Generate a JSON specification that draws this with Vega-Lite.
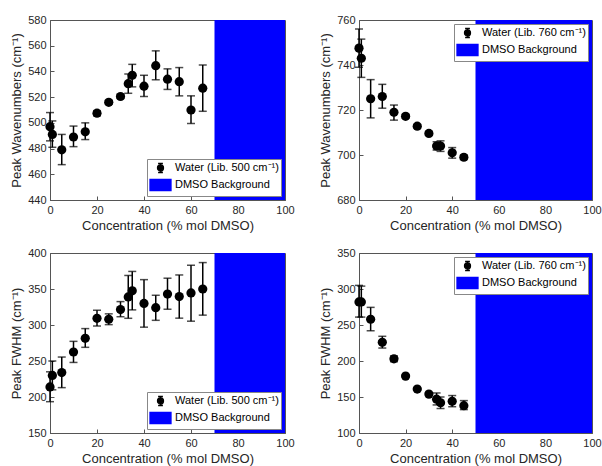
{
  "$schema": "https://vega.github.io/schema/vega-lite/v6.json",
  "background": "white",
  "padding": {"left": 10, "top": 13, "right": 5, "bottom": 5},
  "config": {
    "font": "Liberation Sans",
    "view": {"stroke": "#555", "strokeWidth": 1},
    "axis": {
      "grid": false, "labelFontSize": 11, "titleFontSize": 13, "titleFontWeight": "normal",
      "labelColor": "#262626", "titleColor": "#262626", "domainColor": "#555", "tickColor": "#555",
      "tickSize": -4, "labelPadding": 8, "titlePadding": 4, "labelOverlap": false, "labelFlush": false, "labelBound": false
    },
    "legend": {
      "title": null, "fillColor": "white", "strokeColor": "#888", "padding": 2,
      "labelFontSize": 11, "labelColor": "#000", "symbolSize": 144, "rowPadding": 0,
      "labelOffset": 12, "symbolOpacity": 1, "offset": 4
    }
  },
  "datasets": {
    "tl": [
      {"c": 0, "v": 497, "lo": 486, "hi": 508},
      {"c": 1, "v": 491, "lo": 481, "hi": 501.5},
      {"c": 5, "v": 479, "lo": 467.5, "hi": 491},
      {"c": 10, "v": 489, "lo": 481.5, "hi": 497.5},
      {"c": 15, "v": 493, "lo": 487, "hi": 500},
      {"c": 20, "v": 507.5, "lo": 505.5, "hi": 509.5},
      {"c": 25, "v": 516, "lo": 514.5, "hi": 517.5},
      {"c": 30, "v": 520.5, "lo": 519, "hi": 522},
      {"c": 33.3, "v": 530.5, "lo": 523, "hi": 538},
      {"c": 35, "v": 537, "lo": 528, "hi": 545.5},
      {"c": 40, "v": 528.5, "lo": 520.5, "hi": 537},
      {"c": 45, "v": 544.5, "lo": 533.5, "hi": 556},
      {"c": 50, "v": 534, "lo": 526, "hi": 542},
      {"c": 55, "v": 532, "lo": 521, "hi": 543},
      {"c": 60, "v": 510, "lo": 499.5, "hi": 521},
      {"c": 65, "v": 527, "lo": 509, "hi": 545}
    ],
    "tr": [
      {"c": 0, "v": 747.5, "lo": 739, "hi": 756},
      {"c": 1, "v": 743, "lo": 734.5, "hi": 751.5},
      {"c": 5, "v": 725, "lo": 716.5, "hi": 733.5},
      {"c": 10, "v": 726, "lo": 720.8, "hi": 731.4},
      {"c": 15, "v": 719, "lo": 715.5, "hi": 722.2},
      {"c": 20, "v": 717.2, "lo": 716.3, "hi": 718.1},
      {"c": 25, "v": 712.8, "lo": 712, "hi": 713.6},
      {"c": 30, "v": 709.6, "lo": 708.8, "hi": 710.4},
      {"c": 33.3, "v": 704, "lo": 702.2, "hi": 705.9},
      {"c": 35, "v": 704, "lo": 701.6, "hi": 706.3},
      {"c": 40, "v": 701, "lo": 698.6, "hi": 703.3},
      {"c": 45, "v": 699, "lo": 698, "hi": 700}
    ],
    "bl": [
      {"c": 0, "v": 214, "lo": 193.5, "hi": 235},
      {"c": 1, "v": 230, "lo": 210, "hi": 250},
      {"c": 5, "v": 234, "lo": 213, "hi": 255.5},
      {"c": 10, "v": 262.5, "lo": 248, "hi": 277.3},
      {"c": 15, "v": 281.5, "lo": 269, "hi": 295},
      {"c": 20, "v": 309.3, "lo": 298.6, "hi": 320.5},
      {"c": 25, "v": 308, "lo": 300.5, "hi": 315.5},
      {"c": 30, "v": 321.5, "lo": 311.5, "hi": 332.5},
      {"c": 33.3, "v": 339, "lo": 309.3, "hi": 368.8},
      {"c": 35, "v": 347.5, "lo": 321, "hi": 374.4},
      {"c": 40, "v": 330, "lo": 297, "hi": 363},
      {"c": 45, "v": 324, "lo": 306.5, "hi": 341.3},
      {"c": 50, "v": 343, "lo": 321.9, "hi": 365},
      {"c": 55, "v": 339.5, "lo": 309.5, "hi": 369.5},
      {"c": 60, "v": 344.5, "lo": 305.3, "hi": 383},
      {"c": 65, "v": 350, "lo": 313.7, "hi": 386.7}
    ],
    "br": [
      {"c": 0, "v": 282, "lo": 261, "hi": 305},
      {"c": 1, "v": 282, "lo": 261, "hi": 304},
      {"c": 5, "v": 258, "lo": 242, "hi": 274.5},
      {"c": 10, "v": 226, "lo": 218, "hi": 234.3},
      {"c": 15, "v": 203, "lo": 199, "hi": 207},
      {"c": 20, "v": 179, "lo": 178, "hi": 180},
      {"c": 25, "v": 161, "lo": 160, "hi": 162},
      {"c": 30, "v": 154, "lo": 153, "hi": 155},
      {"c": 33.3, "v": 147, "lo": 139, "hi": 155.6},
      {"c": 35, "v": 142, "lo": 134, "hi": 150},
      {"c": 40, "v": 144, "lo": 136.5, "hi": 152},
      {"c": 45, "v": 138, "lo": 132.5, "hi": 145}
    ],
    "bgL": [{"c": 70, "c2": 100}],
    "bgR": [{"c": 50, "c2": 100}]
  },
  "columns": 2,
  "spacing": {"row": 53, "column": 74},
  "bounds": "flush",
  "resolve": {"scale": {"color": "independent"}, "legend": {"color": "independent"}},
  "concat": [
    {
      "width": 235, "height": 180,
      "encoding": {"x": {"field": "c", "type": "quantitative", "scale": {"domain": [0, 100], "nice": false}, "axis": {"title": "Concentration (% mol DMSO)", "values": [0, 20, 40, 60, 80, 100]}}},
      "layer": [
        {"data": {"name": "bgL"}, "mark": {"type": "rect"}, "encoding": {"x2": {"field": "c2"},
          "color": {"datum": "DMSO Background", "scale": {"domain": ["Water (Lib. 500 cm⁻¹)", "DMSO Background"], "range": ["#000000", "#0000ff"]},
            "legend": {"orient": "bottom-right", "encode": {"symbols": {"update": {
              "shape": {"signal": "datum.value === 'DMSO Background' ? 'M-1,-0.92H2.5V0.92H-1Z' : 'M0.35,-0.75H1.15M0.75,-0.75V0.75M0.35,0.75H1.15M1.25,0A0.5,0.5 0 1 1 0.25,0A0.5,0.5 0 1 1 1.25,0Z'"},
              "stroke": {"signal": "datum.value === 'DMSO Background' ? '#0000ff' : '#000000'"},
              "fill": {"signal": "datum.value === 'DMSO Background' ? '#0000ff' : '#000000'"},
              "strokeWidth": {"value": 1.3}}}}}}}},
        {"data": {"name": "tl"}, "mark": {"type": "errorbar", "color": "black", "ticks": {"size": 8, "thickness": 1.5}, "rule": {"strokeWidth": 1.5}},
          "encoding": {"y": {"field": "lo", "type": "quantitative", "scale": {"domain": [440, 580], "nice": false}, "title": "Peak Wavenumbers (cm⁻¹)", "axis": {"values": [440, 460, 480, 500, 520, 540, 560, 580]}}, "y2": {"field": "hi"}}},
        {"data": {"name": "tl"}, "mark": {"type": "point", "filled": true, "size": 85, "opacity": 1, "shape": "circle"},
          "encoding": {"y": {"field": "v", "type": "quantitative", "title": "Peak Wavenumbers (cm⁻¹)", "axis": {"values": [440, 460, 480, 500, 520, 540, 560, 580]}}, "color": {"datum": "Water (Lib. 500 cm⁻¹)"}}}
      ]
    },
    {
      "width": 233, "height": 180,
      "encoding": {"x": {"field": "c", "type": "quantitative", "scale": {"domain": [0, 100], "nice": false}, "axis": {"title": "Concentration (% mol DMSO)", "values": [0, 20, 40, 60, 80, 100]}}},
      "layer": [
        {"data": {"name": "bgR"}, "mark": {"type": "rect"}, "encoding": {"x2": {"field": "c2"},
          "color": {"datum": "DMSO Background", "scale": {"domain": ["Water (Lib. 760 cm⁻¹)", "DMSO Background"], "range": ["#000000", "#0000ff"]},
            "legend": {"orient": "top-right", "encode": {"symbols": {"update": {
              "shape": {"signal": "datum.value === 'DMSO Background' ? 'M-1,-0.92H2.5V0.92H-1Z' : 'M0.35,-0.75H1.15M0.75,-0.75V0.75M0.35,0.75H1.15M1.25,0A0.5,0.5 0 1 1 0.25,0A0.5,0.5 0 1 1 1.25,0Z'"},
              "stroke": {"signal": "datum.value === 'DMSO Background' ? '#0000ff' : '#000000'"},
              "fill": {"signal": "datum.value === 'DMSO Background' ? '#0000ff' : '#000000'"},
              "strokeWidth": {"value": 1.3}}}}}}}},
        {"data": {"name": "tr"}, "mark": {"type": "errorbar", "color": "black", "ticks": {"size": 8, "thickness": 1.5}, "rule": {"strokeWidth": 1.5}},
          "encoding": {"y": {"field": "lo", "type": "quantitative", "scale": {"domain": [680, 760], "nice": false}, "title": "Peak Wavenumbers (cm⁻¹)", "axis": {"values": [680, 700, 720, 740, 760]}}, "y2": {"field": "hi"}}},
        {"data": {"name": "tr"}, "mark": {"type": "point", "filled": true, "size": 85, "opacity": 1, "shape": "circle"},
          "encoding": {"y": {"field": "v", "type": "quantitative", "title": "Peak Wavenumbers (cm⁻¹)", "axis": {"values": [680, 700, 720, 740, 760]}}, "color": {"datum": "Water (Lib. 760 cm⁻¹)"}}}
      ]
    },
    {
      "width": 235, "height": 180,
      "encoding": {"x": {"field": "c", "type": "quantitative", "scale": {"domain": [0, 100], "nice": false}, "axis": {"title": "Concentration (% mol DMSO)", "values": [0, 20, 40, 60, 80, 100]}}},
      "layer": [
        {"data": {"name": "bgL"}, "mark": {"type": "rect"}, "encoding": {"x2": {"field": "c2"},
          "color": {"datum": "DMSO Background", "scale": {"domain": ["Water (Lib. 500 cm⁻¹)", "DMSO Background"], "range": ["#000000", "#0000ff"]},
            "legend": {"orient": "bottom-right", "encode": {"symbols": {"update": {
              "shape": {"signal": "datum.value === 'DMSO Background' ? 'M-1,-0.92H2.5V0.92H-1Z' : 'M0.35,-0.75H1.15M0.75,-0.75V0.75M0.35,0.75H1.15M1.25,0A0.5,0.5 0 1 1 0.25,0A0.5,0.5 0 1 1 1.25,0Z'"},
              "stroke": {"signal": "datum.value === 'DMSO Background' ? '#0000ff' : '#000000'"},
              "fill": {"signal": "datum.value === 'DMSO Background' ? '#0000ff' : '#000000'"},
              "strokeWidth": {"value": 1.3}}}}}}}},
        {"data": {"name": "bl"}, "mark": {"type": "errorbar", "color": "black", "ticks": {"size": 8, "thickness": 1.5}, "rule": {"strokeWidth": 1.5}},
          "encoding": {"y": {"field": "lo", "type": "quantitative", "scale": {"domain": [150, 400], "nice": false}, "title": "Peak FWHM (cm⁻¹)", "axis": {"values": [150, 200, 250, 300, 350, 400]}}, "y2": {"field": "hi"}}},
        {"data": {"name": "bl"}, "mark": {"type": "point", "filled": true, "size": 85, "opacity": 1, "shape": "circle"},
          "encoding": {"y": {"field": "v", "type": "quantitative", "title": "Peak FWHM (cm⁻¹)", "axis": {"values": [150, 200, 250, 300, 350, 400]}}, "color": {"datum": "Water (Lib. 500 cm⁻¹)"}}}
      ]
    },
    {
      "width": 233, "height": 180,
      "encoding": {"x": {"field": "c", "type": "quantitative", "scale": {"domain": [0, 100], "nice": false}, "axis": {"title": "Concentration (% mol DMSO)", "values": [0, 20, 40, 60, 80, 100]}}},
      "layer": [
        {"data": {"name": "bgR"}, "mark": {"type": "rect"}, "encoding": {"x2": {"field": "c2"},
          "color": {"datum": "DMSO Background", "scale": {"domain": ["Water (Lib. 760 cm⁻¹)", "DMSO Background"], "range": ["#000000", "#0000ff"]},
            "legend": {"orient": "top-right", "encode": {"symbols": {"update": {
              "shape": {"signal": "datum.value === 'DMSO Background' ? 'M-1,-0.92H2.5V0.92H-1Z' : 'M0.35,-0.75H1.15M0.75,-0.75V0.75M0.35,0.75H1.15M1.25,0A0.5,0.5 0 1 1 0.25,0A0.5,0.5 0 1 1 1.25,0Z'"},
              "stroke": {"signal": "datum.value === 'DMSO Background' ? '#0000ff' : '#000000'"},
              "fill": {"signal": "datum.value === 'DMSO Background' ? '#0000ff' : '#000000'"},
              "strokeWidth": {"value": 1.3}}}}}}}},
        {"data": {"name": "br"}, "mark": {"type": "errorbar", "color": "black", "ticks": {"size": 8, "thickness": 1.5}, "rule": {"strokeWidth": 1.5}},
          "encoding": {"y": {"field": "lo", "type": "quantitative", "scale": {"domain": [100, 350], "nice": false}, "title": "Peak FWHM (cm⁻¹)", "axis": {"values": [100, 150, 200, 250, 300, 350]}}, "y2": {"field": "hi"}}},
        {"data": {"name": "br"}, "mark": {"type": "point", "filled": true, "size": 85, "opacity": 1, "shape": "circle"},
          "encoding": {"y": {"field": "v", "type": "quantitative", "title": "Peak FWHM (cm⁻¹)", "axis": {"values": [100, 150, 200, 250, 300, 350]}}, "color": {"datum": "Water (Lib. 760 cm⁻¹)"}}}
      ]
    }
  ]
}
